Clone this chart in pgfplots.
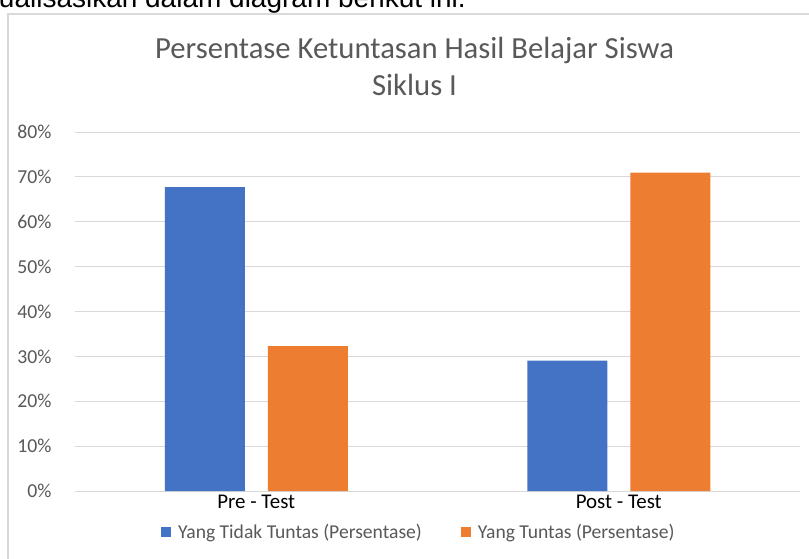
\documentclass[border=0pt]{standalone}
\usepackage{pgfplots}
\pgfplotsset{compat=1.18}
\usepackage{fontspec}
\setmainfont{Carlito}
\newfontfamily\arialfont{Liberation Sans}
\definecolor{cblue}{HTML}{4472C4}
\definecolor{corange}{HTML}{ED7D31}
\definecolor{cgrid}{HTML}{D9D9D9}
\definecolor{ctext}{HTML}{595959}
\begin{document}
\begin{tikzpicture}
\useasboundingbox (0,0) rectangle (606.75pt,418.5pt);
\clip (0,0) rectangle (606.75pt,418.5pt);
\fill[white] (0,0) rectangle (606.75pt,418.5pt);
% text above the chart (cropped)
\node[anchor=base west, inner sep=0pt, font=\arialfont\fontsize{21}{25}\selectfont] at (-1pt,412.5pt) {ualisasikan dalam diagram berikut ini.};
% chart frame
\draw[cgrid, line width=1.5pt] (6pt,408pt) rectangle (640pt,-10pt);
% title
\node[anchor=base, inner sep=0pt, text=ctext, font=\fontsize{23}{27}\selectfont] at (310.9pt,374.25pt) {Persentase Ketuntasan Hasil Belajar Siswa};
\node[anchor=base, inner sep=0pt, text=ctext, font=\fontsize{23}{27}\selectfont] at (310.9pt,346.5pt) {Siklus I};
\begin{axis}[
  at={(56.25pt,50.25pt)}, anchor=south west,
  scale only axis, width=543.75pt, height=269.25pt,
  xmin=-0.5, xmax=1.5, ymin=0, ymax=80,
  ybar=17.25pt, bar width=60pt,
  xtick={0,1}, xticklabels={Pre - Test, Post - Test},
  ytick={0,10,...,80},
  yticklabel={\pgfmathprintnumber{\tick}\%},
  /pgf/number format/assume math mode=true,
  axis line style={draw=none},
  major tick length=0pt,
  ymajorgrids, grid style={cgrid, line width=0.75pt},
  yticklabel style={anchor=east, inner sep=0pt, xshift=-17.5pt, text=ctext, font=\fontsize{14.8}{17}\selectfont},
  xticklabel style={anchor=base, inner sep=0pt, yshift=-12.75pt, text=black, font=\fontsize{15.7}{18}\selectfont},
  legend columns=2,
  legend style={draw=none, fill=none, at={(0.4745,-0.115)}, anchor=center,
    font=\fontsize{14.7}{17}\selectfont, text=ctext,
    /tikz/every odd column/.append style={column sep=3pt},
    /tikz/every even column/.append style={column sep=27pt}},
  legend cell align=left,
]
\addplot[fill=cblue, draw=none, legend image code/.code={\fill[cblue] (0pt,-3.75pt) rectangle (8pt,4pt);}] coordinates {(0,67.74) (1,29.03)};
\addplot[fill=corange, draw=none, legend image code/.code={\fill[corange] (0pt,-3.75pt) rectangle (8pt,4pt);}] coordinates {(0,32.26) (1,70.97)};
\legend{Yang Tidak Tuntas (Persentase), Yang Tuntas (Persentase)}
\end{axis}
\end{tikzpicture}
\end{document}
